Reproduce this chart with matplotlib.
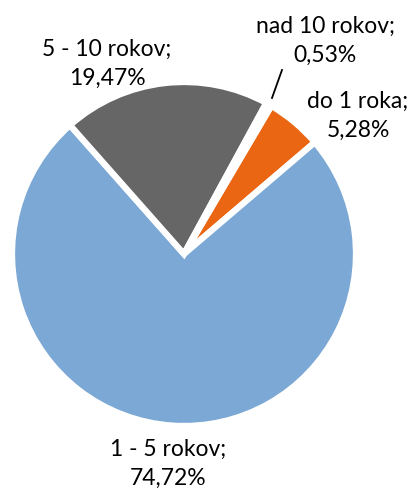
import matplotlib.pyplot as plt

# data (clockwise from the first slice)
labels = ["do 1 roka", "1 - 5 rokov", "5 - 10 rokov", "nad 10 rokov"]
shares = [5.28, 74.72, 19.47, 0.53]
share_txt = ["5,28%", "74,72%", "19,47%", "0,53%"]
colors = ["#EB6612", "#7BA8D5", "#666666", "#FFFFFF"]

plt.rcParams['font.family'] = ['Lato', 'DejaVu Sans']

W, H = 412, 490
cx, cy = 184, 254  # pie center in pixels (from top-left)
R = 172

fig = plt.figure(figsize=(W / 100, H / 100), dpi=100)
ax = fig.add_axes([0, 0, 1, 1])

ax.pie(shares, colors=colors, radius=R, startangle=59.5, counterclock=False,
       wedgeprops=dict(edgecolor='white', linewidth=4.5))

# pie() sets its own limits, so put pixel limits back afterwards
ax.set_xlim(-cx, W - cx)
ax.set_ylim(-(H - cy), cy)
ax.set_aspect('equal')
ax.axis('off')

# label positions in pixel coords (x, y from top)
pos = [(358, 116), (168, 464), (107, 64), (325, 41)]
for lab, txt, (x, y) in zip(labels, share_txt, pos):
    ax.text(x - cx, cy - y, lab + ";\n" + txt, ha='center', va='center',
            fontsize=16.5, linespacing=1.5, color='black')

# leader line for the tiny slice
ax.plot([272 - cx, 282 - cx], [cy - 98, cy - 70], color='black', lw=1.3)

fig.savefig("out.png", dpi=100)
